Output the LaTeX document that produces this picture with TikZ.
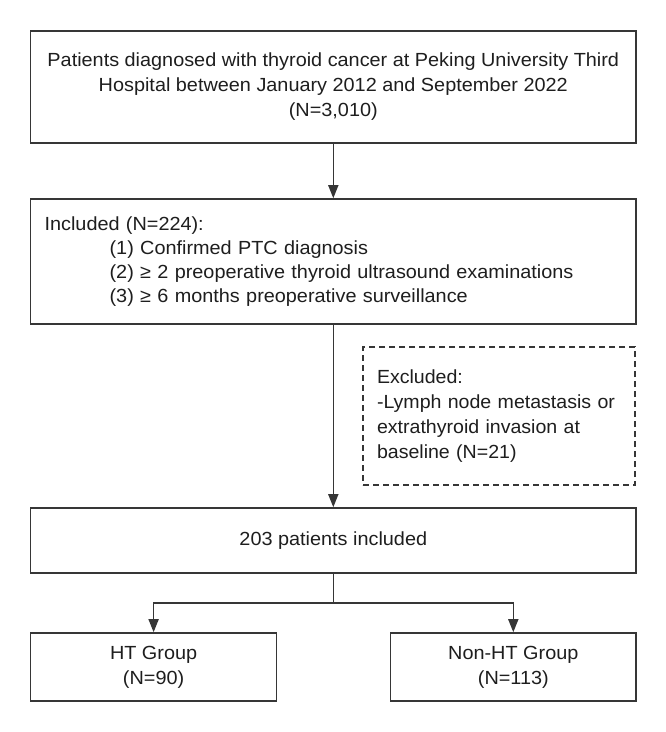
\documentclass[tikz,border=0pt]{standalone}
\usepackage{fontspec}
\setmainfont[FakeStretch=1.045]{Liberation Sans}
\newfontfamily\exfont[FakeStretch=1.03]{Liberation Sans}
\usetikzlibrary{arrows.meta}
\definecolor{linec}{HTML}{363636}
\definecolor{textc}{HTML}{1E1E1E}
\begin{document}
\begin{tikzpicture}[x=1pt,y=-1pt,
  every node/.style={font=\fontsize{19}{25}\selectfont, text=textc},
  box/.style={draw=linec, line width=1.6pt, rectangle, inner sep=0pt, align=center},
  dbox/.style={draw=linec, line width=1.4pt, dash pattern=on 6pt off 4pt, rectangle, inner ysep=0pt, inner xsep=14pt, align=left,
    font=\exfont\fontsize{19}{25}\selectfont},
  conn/.style={draw=linec, line width=1.6pt},
  arr/.style={conn, -{Triangle[length=13pt,width=10pt]}}]
\useasboundingbox[fill=white] (0,0) rectangle (666,732);

\node[box, minimum width=605.4pt, minimum height=112pt] (b1) at (333.3,86.7)
  {Patients diagnosed with thyroid cancer at Peking University Third\\
   Hospital between January 2012 and September 2022\\ (N=3,010)};

\node[box, minimum width=605.4pt, minimum height=125pt, inner xsep=14pt, text width=577.4pt, align=left,
  font=\fontsize{19}{24}\selectfont] (b2) at (333.3,261.5)
  {Included (N=224):\\
   \hspace*{65pt}(1) Confirmed PTC diagnosis\\
   \hspace*{65pt}(2) ≥ 2 preoperative thyroid ultrasound examinations\\
   \hspace*{65pt}(3) ≥ 6 months preoperative surveillance};

\node[dbox, minimum width=272pt, minimum height=138pt, text width=244pt] (ex) at (499,416)
  {Excluded:\\
   -Lymph node metastasis or\\
   extrathyroid invasion at\\
   baseline (N=21)};

\node[box, minimum width=605.4pt, minimum height=65pt] (b3) at (333.3,540.5)
  {203 patients included};

\node[box, minimum width=246pt, minimum height=68pt] (ht) at (153.6,667)
  {HT Group\\(N=90)};
\node[box, minimum width=245.4pt, minimum height=68pt] (nht) at (513.3,667)
  {Non-HT Group\\(N=113)};

\coordinate (j) at (333.3,603);

\draw[arr] (b1.south) -- (b2.north);
\draw[arr] (b2.south) -- (b3.north);
\draw[conn] (b3.south) -- (j);
\draw[arr] (j) -| (ht.north);
\draw[arr] (j) -| (nht.north);
\end{tikzpicture}
\end{document}
